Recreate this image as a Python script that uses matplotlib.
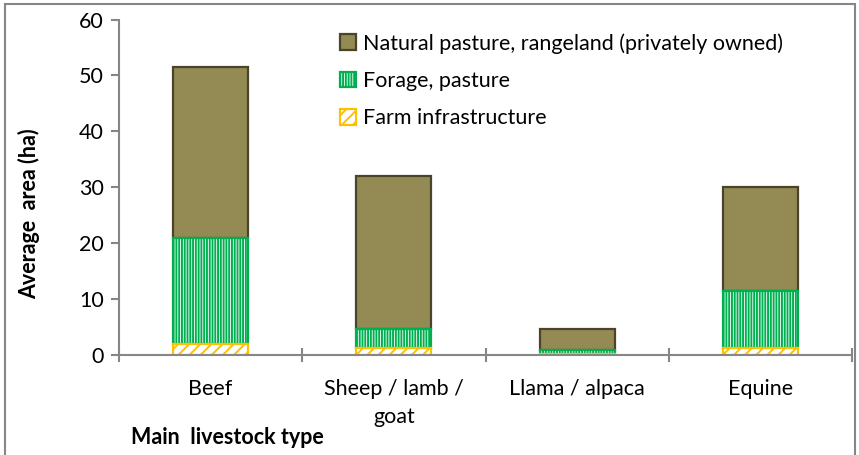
#! /usr/bin/env python3

import matplotlib
matplotlib.use('Agg')
import matplotlib.pyplot as plt
from matplotlib.patches import Rectangle
import numpy as np

# data
categories = ['Beef', 'Sheep / lamb /\ngoat', 'Llama / alpaca', 'Equine']
infrastructure = [2.0, 1.2, 0.1, 1.2]
forage = [19.0, 3.4, 0.85, 10.2]
natural = [30.5, 27.4, 3.75, 18.65]

series_names = ['Natural pasture, rangeland (privately owned)',
                'Forage, pasture',
                'Farm infrastructure']

plt.rcParams['font.family'] = ['Lato', 'DejaVu Sans']
plt.rcParams['hatch.linewidth'] = 1.4

fig = plt.figure(figsize=(8.59, 4.55), dpi=100)
ax = fig.add_axes([119 / 859, 1 - 355 / 455, 733 / 859, 335.5 / 455])

x = np.arange(len(categories))
width = 0.41
infra = np.array(infrastructure)
forg = np.array(forage)
nat = np.array(natural)

b_nat = ax.bar(x, nat, width, bottom=infra + forg, color='#948A54',
               edgecolor='#4A452A', linewidth=1.6, label=series_names[0])
b_for = ax.bar(x, forg, width, bottom=infra, color='white', hatch='||||||',
               edgecolor='#00B050', linewidth=1.6, label=series_names[1])
b_inf = ax.bar(x, infra, width, color='white', hatch='///',
               edgecolor='#FFC000', linewidth=1.6, label=series_names[2])

ax.set_xlim(-0.5, len(categories) - 0.5)
ax.set_ylim(0, 60)
ax.set_yticks(range(0, 61, 10))
ax.set_xticks(np.arange(-0.5, len(categories), 1.0))
ax.set_xticklabels([])
ax.set_xticks(x, minor=True)
ax.set_xticklabels(categories, minor=True, fontsize=15.5, linespacing=1.55,
                   va='top')

for side in ['top', 'right']:
    ax.spines[side].set_visible(False)
for side in ['left', 'bottom']:
    ax.spines[side].set_color('#868686')
    ax.spines[side].set_linewidth(1.5)

ax.tick_params(axis='y', direction='out', length=6, width=1.5,
               color='#868686', labelsize=15.5, pad=5)
ax.tick_params(axis='x', which='major', direction='inout', length=10,
               width=1.5, color='#868686')
ax.tick_params(axis='x', which='minor', length=0, pad=17)

ax.set_ylabel('Average  area (ha)', fontsize=15.5, fontweight='bold')
ax.yaxis.set_label_coords(-0.123, 0.42)
ax.yaxis.label.set_va('center')
fig.text(131 / 859, 1 - 437 / 455, 'Main  livestock type', fontsize=15.5,
         fontweight='bold', va='center', ha='left')

ax.legend(handles=[b_nat, b_for, b_inf], loc='upper left',
          bbox_to_anchor=(0.29, 0.985), frameon=False, fontsize=15.5,
          handlelength=0.75, handleheight=0.75, handletextpad=0.3,
          labelspacing=0.8, borderaxespad=0)

# outer chart frame
fig.patches.append(Rectangle((5 / 859, -0.02), 850 / 859, 1.011,
                             transform=fig.transFigure, fill=False,
                             edgecolor='#868686', linewidth=1.5))

fig.savefig('out.png', dpi=100)
